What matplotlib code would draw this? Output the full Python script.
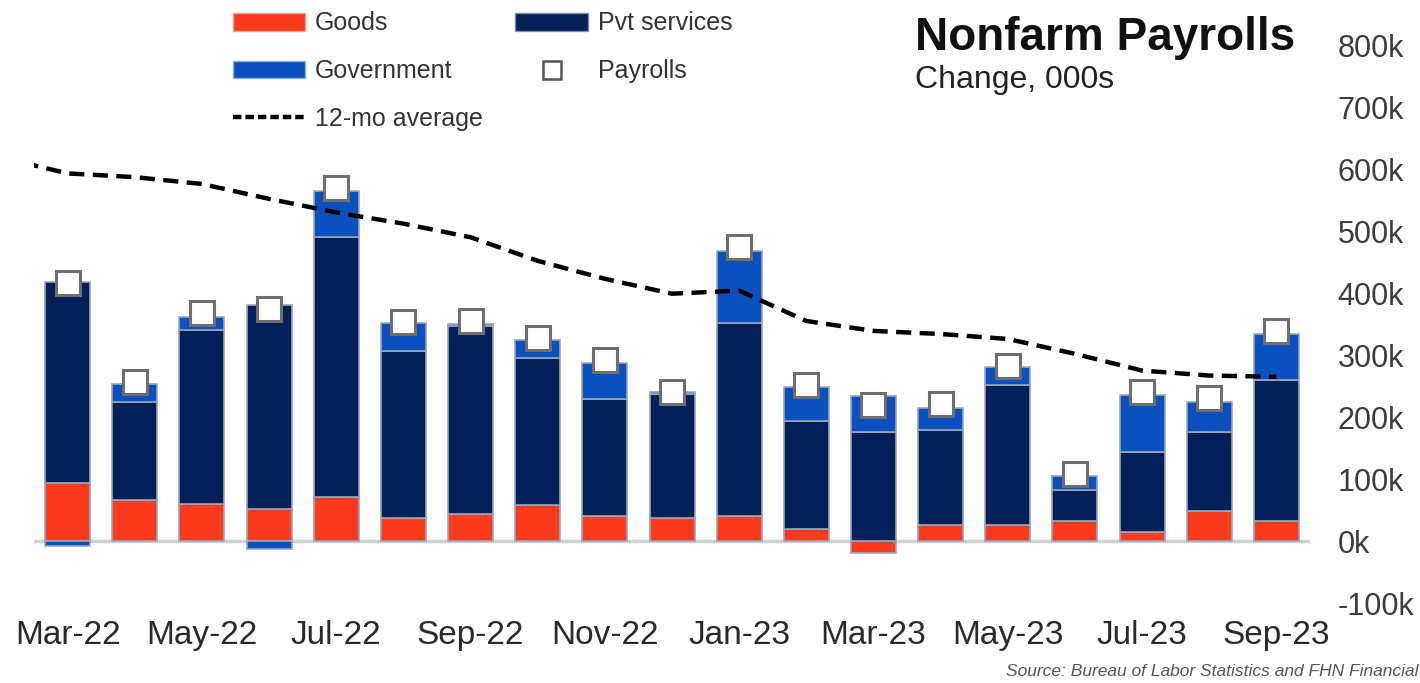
import numpy as np
import matplotlib.pyplot as plt
from matplotlib.lines import Line2D
from matplotlib.patches import Patch

plt.rcParams['font.family'] = ['Liberation Sans', 'DejaVu Sans']

months = ["Mar-22", "Apr-22", "May-22", "Jun-22", "Jul-22", "Aug-22", "Sep-22",
          "Oct-22", "Nov-22", "Dec-22", "Jan-23", "Feb-23", "Mar-23", "Apr-23",
          "May-23", "Jun-23", "Jul-23", "Aug-23", "Sep-23"]
goods = [94, 66, 60, 51, 71, 38, 44, 58, 40, 38, 40, 19, -19, 26, 26, 32, 14, 48, 32]
pvt_services = [324, 159, 281, 330, 419, 269, 303, 238, 189, 199, 311, 174, 176,
                153, 225, 51, 130, 128, 228]
government = [-8, 28, 21, -13, 75, 45, 3, 28, 59, 3, 117, 55, 58, 36, 29, 22, 91, 49, 74]
payrolls = [416, 257, 368, 374, 570, 354, 355, 327, 292, 240, 475, 251, 220, 221,
            283, 108, 241, 230, 339]
# 12-mo average, Feb-22 through Sep-23 (Feb-22 sits just off the left edge)
avg_months = ["Feb-22"] + months
avg_12mo = [619, 593, 587, 576, 552, 530, 512, 490, 452, 423, 399, 404, 355, 339,
            334, 326, 302, 275, 267, 265]

GOODS_C = "#fb3a1e"
PVT_C = "#03205a"
GOV_C = "#0a50bf"

fig = plt.figure(figsize=(14.2, 6.83), dpi=100)
ax = fig.add_axes([0.024, 0.117, 0.8985, 0.817])

x = np.arange(len(months))
pos_base = np.zeros(len(months))
neg_base = np.zeros(len(months))
for vals, col in [(goods, GOODS_C), (pvt_services, PVT_C), (government, GOV_C)]:
    v = np.array(vals, dtype=float)
    bottom = np.where(v >= 0, pos_base, neg_base)
    ax.bar(x, v, bottom=bottom, width=0.67, color=col, edgecolor="#9aa6bb",
           linewidth=1.2, zorder=2)
    pos_base += np.clip(v, 0, None)
    neg_base += np.clip(v, None, 0)

ax.axhline(0, color="#d2d2d2", lw=2.5, zorder=1)

ax_x = np.arange(len(avg_months)) - 1
ax.plot(ax_x, avg_12mo, color="black", lw=3.2, dashes=(3.4, 1.9), zorder=3,
        clip_on=True)

ax.plot(x, payrolls, ls="none", marker="s", ms=17, mfc="white", mec="#6e6e6e",
        mew=2.2, zorder=4)

ax.set_xlim(-0.5, len(months) - 0.5)
ax.set_ylim(-100, 800)
ax.yaxis.tick_right()
ax.set_yticks(range(-100, 801, 100))
ax.set_yticklabels([f"{v}k" for v in range(-100, 801, 100)])
ax.set_xticks(x[::2])
ax.set_xticklabels(months[::2])
ax.tick_params(axis="y", length=0, pad=20, labelsize=22, labelcolor="#3c3c3c")
ax.tick_params(axis="x", length=0, pad=12, labelsize=24, labelcolor="#2a2a2a")
for s in ax.spines.values():
    s.set_visible(False)

fig.text(915 / 1420, 1 - 38 / 683, "Nonfarm Payrolls", fontsize=33,
         fontweight="bold", va="center", ha="left", color="#111111")
fig.text(915 / 1420, 1 - 80 / 683, "Change, 000s", fontsize=23,
         va="center", ha="left", color="#222222")
fig.text(1418 / 1420, 1 - 671 / 683,
         "Source: Bureau of Labor Statistics and FHN Financial",
         fontsize=12.5, style="italic", ha="right", va="center", color="#555555")

handles = [
    Patch(facecolor=GOODS_C, edgecolor="#f0a090", label="Goods"),
    Patch(facecolor=GOV_C, edgecolor="#8fb0d8", label="Government"),
    Line2D([], [], color="black", lw=3.2, dashes=(1.9, 0.9), label="12-mo average"),
    Patch(facecolor=PVT_C, edgecolor="#7a8aa8", label="Pvt services"),
    Line2D([], [], ls="none", marker="s", ms=13, mfc="white", mec="#555555",
           mew=1.8, label="Payrolls"),
]
fig.legend(handles=handles, ncol=2, loc="upper left",
           bbox_to_anchor=(215 / 1420, 1 + 6 / 683), frameon=False,
           fontsize=18, handlelength=2.9, handleheight=0.7, handletextpad=0.4,
           columnspacing=1.3, labelspacing=0.95, borderpad=0.2,
           labelcolor="#333333")

fig.savefig("out.png", dpi=100)
